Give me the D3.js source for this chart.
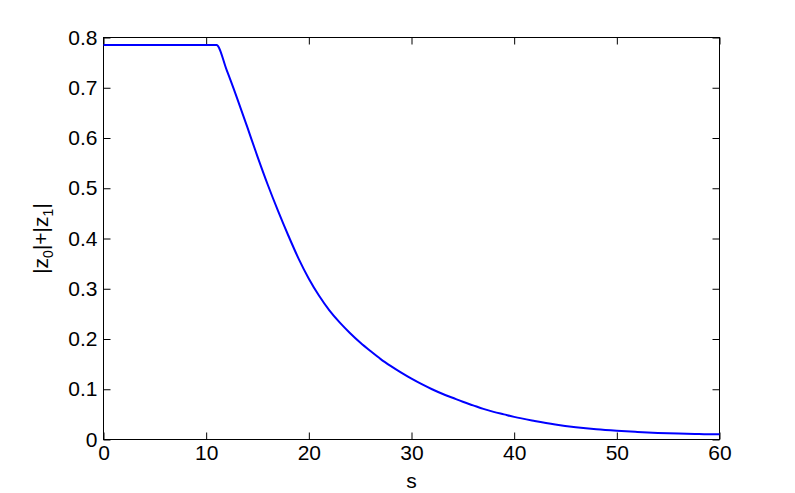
<!DOCTYPE html>
<html>
<head>
<meta charset="utf-8">
<script src="https://cdn.jsdelivr.net/npm/d3@7"></script>
<style>
  html, body { margin: 0; padding: 0; background: #fff; }
  svg { display: block; font-family: "Liberation Sans", Arial, Helvetica, sans-serif; }
</style>
</head>
<body>
<svg id="chart" width="795" height="493"></svg>
<script>
// ---- data ----
const sValues = [0, 11, 12, 13, 14, 15, 16, 17, 18, 19, 20, 21, 22, 23, 24, 25, 26, 27, 28, 29, 30,
                 31, 32, 33, 34, 35, 36, 37, 38, 39, 40, 42, 44, 46, 48, 50, 52, 54, 56, 58, 60];
const zValues = [0.785, 0.785, 0.735, 0.680, 0.622, 0.563, 0.507, 0.455, 0.406, 0.360, 0.320,
                 0.286, 0.257, 0.233, 0.212, 0.193, 0.176, 0.160, 0.146, 0.133, 0.121,
                 0.110, 0.100, 0.091, 0.083, 0.075, 0.068, 0.061, 0.055, 0.050, 0.045,
                 0.037, 0.030, 0.0245, 0.0203, 0.0173, 0.0150, 0.0131, 0.0117, 0.0108, 0.0103];
const xTicks = [0, 10, 20, 30, 40, 50, 60];
const yTicks = [0, 0.1, 0.2, 0.3, 0.4, 0.5, 0.6, 0.7, 0.8];
const xLabel = "s";

// ---- layout ----
const svg = d3.select("#chart");
const L = 103.5, R = 719.5, T = 37.5, B = 439.5;
const x = d3.scaleLinear().domain([0, 60]).range([L, R]);
const y = d3.scaleLinear().domain([0, 0.8]).range([B, T]);
const fontSize = 21;
const tick = 7;

const gB = svg.append("g").attr("transform", `translate(0,${B})`)
  .call(d3.axisBottom(x).tickValues(xTicks).tickSize(-tick).tickPadding(5).tickFormat(d3.format("d")));
const gT = svg.append("g").attr("transform", `translate(0,${T})`)
  .call(d3.axisTop(x).tickValues(xTicks).tickSize(-tick).tickFormat(""));
const gL = svg.append("g").attr("transform", `translate(${L},0)`)
  .call(d3.axisLeft(y).tickValues(yTicks).tickSize(-tick).tickPadding(6)
    .tickFormat(d => d === 0 ? "0" : d3.format(".1f")(d)));
const gR = svg.append("g").attr("transform", `translate(${R},0)`)
  .call(d3.axisRight(y).tickValues(yTicks).tickSize(-tick).tickFormat(""));

[gB, gT, gL, gR].forEach(g => {
  g.select(".domain").remove();
  g.selectAll(".tick line").attr("stroke", "#000").attr("stroke-width", 1);
  g.selectAll("text").attr("fill", "#000").style("font-size", fontSize + "px")
    .style("font-family", '"Liberation Sans", Arial, Helvetica, sans-serif');
});
gB.selectAll("text").attr("dy", "0.75em");

svg.append("rect").attr("x", L).attr("y", T).attr("width", R - L).attr("height", B - T)
  .attr("fill", "none").attr("stroke", "#000").attr("stroke-width", 1);

const pts = sValues.map((s, i) => [s, zValues[i]]);
svg.append("path").datum(pts)
  .attr("fill", "none").attr("stroke", "#0000ff").attr("stroke-width", 2)
  .attr("stroke-linejoin", "round")
  .attr("d", d3.line().x(d => x(d[0])).y(d => y(d[1])).curve(d3.curveMonotoneX));

svg.append("text").attr("x", (L + R) / 2).attr("y", 488)
  .attr("text-anchor", "middle").style("font-size", fontSize + "px").attr("fill", "#000")
  .text(xLabel);

const yl = svg.append("text")
  .attr("transform", `translate(48,${(T + B) / 2}) rotate(-90)`)
  .attr("text-anchor", "middle").style("font-size", fontSize + "px").attr("fill", "#000");
yl.append("tspan").text("|z");
yl.append("tspan").attr("dy", 5).style("font-size", "14px").text("0");
yl.append("tspan").attr("dy", -5).text("|+|z");
yl.append("tspan").attr("dy", 5).style("font-size", "14px").text("1");
yl.append("tspan").attr("dy", -5).text("|");
</script>
</body>
</html>
